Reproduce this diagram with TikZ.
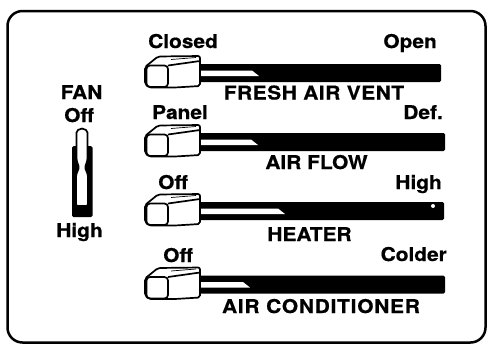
\documentclass[tikz,border=0pt]{standalone}
\usepackage{fontspec}
\newfontfamily\labfont{TeX Gyre Heros}[FakeStretch=1.1, BoldFeatures={FakeBold=0.6}]
\tikzset{
  lab/.style={inner sep=0pt, font=\labfont\bfseries\fontsize{19}{19}\selectfont},
  outline/.style={line width=1.7pt, line join=round},
  frame/.style={line width=2.5pt, rounded corners=15pt},
}
% #1 knob centre y, #2 bar end x, #3 slot tip x
\newcommand\sliderrow[3]{%
  \begin{scope}[shift={(0,#1)}]
    \fill[rounded corners=1.5pt] (197,-8) rectangle (#2,10);
    \fill[white] (201,-1.5) -- (#3-7,-1.5) -- (#3,4) -- (201,4) -- cycle;
    \draw[outline, fill=white, rounded corners=2pt]
      (145,-5) -- (158,-15.5) -- (200,-16) -- (200,14) -- (175,15.5)
      -- (149,15.5) -- (145,12) -- cycle;
    \draw[outline, rounded corners=3.5pt] (146.5,-6.5) rectangle (168,15);
    \draw[outline] (168,-6.5) -- (200,-11);
    \draw[line width=0.7pt] (171,-12.5) -- (196,-14.5);
  \end{scope}}
\begin{document}
\begin{tikzpicture}[x=1pt,y=-1pt]
  \useasboundingbox (0,0) rectangle (487,346);
  \draw[frame] (7.5,11) rectangle (485.5,342.5);

  % sliders
  \sliderrow{72}{441}{259}
  \sliderrow{141}{445}{258}
  \sliderrow{210}{444}{285}
  \fill[white] (433,206) circle (2pt);
  \sliderrow{283.5}{445}{250}

  % fan slider
  \fill[rounded corners=1.5pt] (72,146) rectangle (92.5,217);
  \draw[outline, fill=white, rounded corners=1.5pt]
    (76.5,160) -- (76.5,134) arc[start angle=180, end angle=0, radius=5.5pt]
    -- (87.5,160) -- (85,167.5) -- (88,175) -- (88,206) -- (76,206)
    -- (76,175) -- (79,167.5) -- cycle;

  % labels
  \node[lab, anchor=base] (closed) at (183,48) {Closed};
  \node[lab, anchor=base east] (open) at (437,48) {Open};
  \node[lab, anchor=base] (fav) at (314,99.5) {\addfontfeature{LetterSpace=3}FRESH AIR VENT};
  \node[lab, anchor=base] (panel) at (180,119) {Panel};
  \node[lab, anchor=base east] (def) at (443,119) {Def.};
  \node[lab, anchor=base] (airflow) at (316.5,169) {AIR FLOW};
  \node[lab, anchor=base] (hoff) at (173,189) {Off};
  \node[lab, anchor=base east] (hhigh) at (442,189) {High};
  \node[lab, anchor=base] (heater) at (309.5,241) {HEATER};
  \node[lab, anchor=base] (aoff) at (178,262) {Off};
  \node[lab, anchor=base east] (colder) at (447,261) {Colder};
  \node[lab, anchor=base] (ac) at (321,313) {\addfontfeature{LetterSpace=4}AIR CONDITIONER};
  \node[lab, anchor=base] (fan) at (81.5,99) {FAN};
  \node[lab, anchor=base] (foff) at (79,122) {Off};
  \node[lab, anchor=base] (fhigh) at (79.5,237) {High};
\end{tikzpicture}
\end{document}
